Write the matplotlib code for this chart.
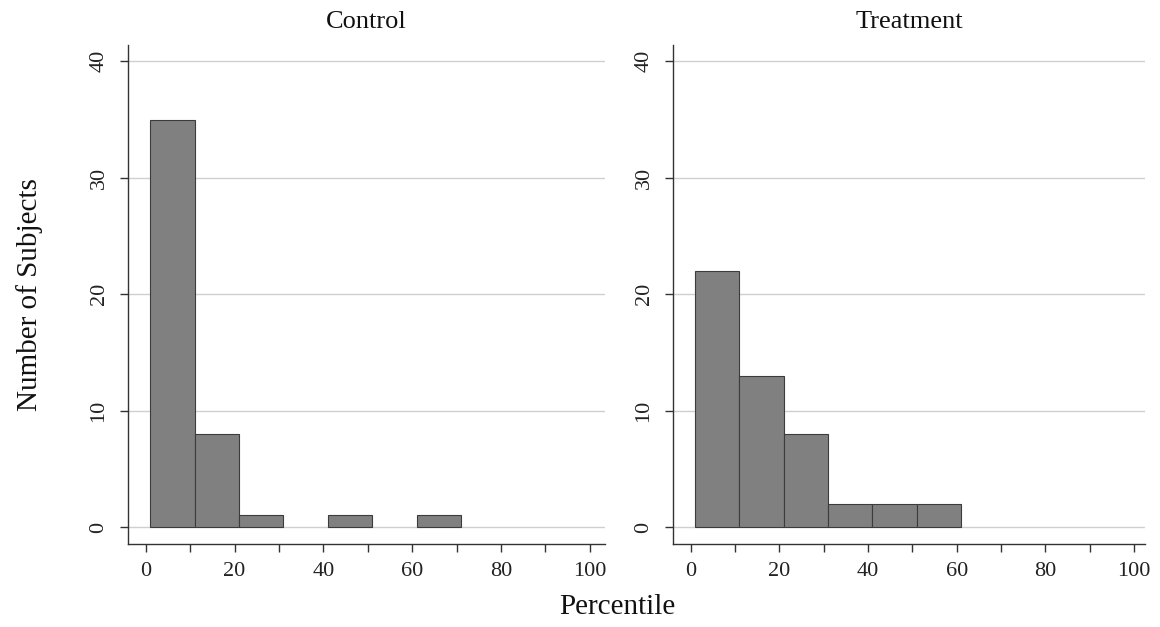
import matplotlib
matplotlib.use("Agg")
import matplotlib.pyplot as plt
import numpy as np

plt.rcParams['font.family'] = ['Liberation Serif', 'DejaVu Serif']

bin_left = [1, 11, 21, 31, 41, 51, 61, 71, 81, 91]
bin_width = 10
control_counts = [35, 8, 1, 0, 1, 0, 1, 0, 0, 0]
treatment_counts = [22, 13, 8, 2, 2, 2, 0, 0, 0, 0]
panel_titles = ["Control", "Treatment"]
x_major = [0, 20, 40, 60, 80, 100]
x_minor = [10, 30, 50, 70, 90]
y_ticks = [0, 10, 20, 30, 40]

W, H = 1160, 627
fig = plt.figure(figsize=(W / 100, H / 100), dpi=100)

panels = [
    (128, 605, control_counts, panel_titles[0], 103.4),
    (673, 1145, treatment_counts, panel_titles[1], 102.5),
]
top_px, bot_px = 45, 544
for lpx, rpx, counts, title, xmax in panels:
    ax = fig.add_axes([lpx / W, 1 - bot_px / H, (rpx - lpx) / W, (bot_px - top_px) / H])
    ax.set_xlim(-4.0, xmax)
    ax.set_ylim(-1.46, 41.4)
    for y in y_ticks:
        ax.axhline(y, color='#cfcfcf', lw=1.0, zorder=0)
    lefts = [b for b, c in zip(bin_left, counts) if c > 0]
    vals = [c for c in counts if c > 0]
    ax.bar(lefts, vals, width=bin_width, align='edge', color='#808080',
           edgecolor='#3c3c3c', linewidth=0.8, zorder=2)
    for s in ['top', 'right']:
        ax.spines[s].set_visible(False)
    for s in ['left', 'bottom']:
        ax.spines[s].set_color('#333333')
        ax.spines[s].set_linewidth(1.0)
    ax.set_xticks(x_major)
    ax.set_xticks(x_minor, minor=True)
    ax.set_yticks(y_ticks)
    ax.set_yticklabels([str(v) for v in y_ticks], rotation=90, va='center')
    ax.tick_params(axis='both', which='major', length=6, width=1.0, color='#333333',
                   labelsize=16, labelcolor='#222222')
    ax.tick_params(axis='x', which='major', pad=7)
    ax.tick_params(axis='y', which='major', pad=8)
    ax.tick_params(axis='x', which='minor', length=6, width=1.0, color='#333333')
    ax.set_title(title, fontsize=19, pad=12, color='#111111')

fig.text(30 / W, 1 - 295 / H, "Number of Subjects", rotation=90, ha='center', va='center',
         fontsize=21, color='#111111')
fig.text(617 / W, 1 - 607 / H, "Percentile", ha='center', va='center', fontsize=21,
         color='#111111')

fig.savefig("out.png", dpi=100)
